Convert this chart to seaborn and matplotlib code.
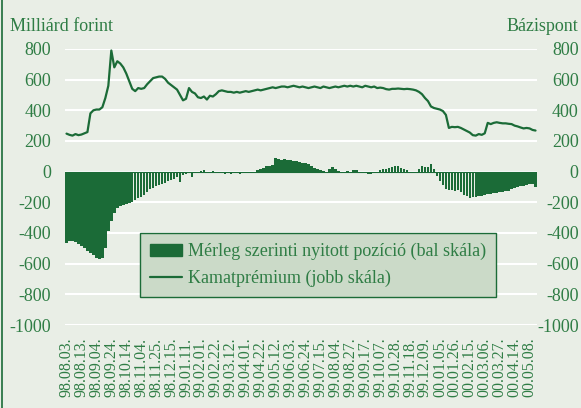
import matplotlib
matplotlib.use("Agg")
import matplotlib.pyplot as plt
from matplotlib.lines import Line2D
from matplotlib.patches import Patch
import seaborn as sns
import pandas as pd

# Tick labels on the date axis (one every 5 points)
date_labels = ["98.08.03.", "98.08.13.", "98.09.04.", "98.09.24.", "98.10.14.", "98.11.04.",
               "98.11.25.", "98.12.15.", "99.01.11.", "99.02.01.", "99.02.22.", "99.03.12.",
               "99.04.01.", "99.04.22.", "99.05.12.", "99.06.03.", "99.06.24.", "99.07.15.",
               "99.08.04.", "99.08.27.", "99.09.17.", "99.10.07.", "99.10.28.", "99.11.18.",
               "99.12.09.", "00.01.05.", "00.01.26.", "00.02.15.", "00.03.06.", "00.03.27.",
               "00.04.14.", "00.05.08."]

# Mérleg szerinti nyitott pozíció (milliárd forint, bal skála)
pozicio = [-465, -455, -450, -460, -470, -485, -500, -515, -530, -545,
           -560, -570, -560, -500, -390, -320, -270, -240, -225, -215,
           -210, -205, -197, -185, -175, -165, -150, -130, -115, -105,
           -92, -85, -78, -72, -62, -53, -45, -38, -70, -22,
           -15, -12, -38, -8, -5, 5, 8, -10, -8, 5,
           -10, -12, -10, -15, -12, -15, -10, -12, -15, -12,
           -10, -8, -10, -5, 8, 15, 25, 35, 40, 45,
           90, 82, 78, 80, 75, 78, 72, 70, 65, 55,
           55, 50, 35, 25, 15, 10, 5, -8, 15, 30,
           15, 5, -5, -10, 5, -5, 8, 10, -5, -8,
           -12, -15, -18, -12, -5, 10, 20, 15, 25, 30,
           40, 35, 25, 15, 10, -5, -8, -5, 20, 35,
           30, 30, 48, 20, -30, -60, -85, -110, -118, -122,
           -125, -120, -130, -150, -160, -170, -168, -165, -160, -158,
           -152, -148, -145, -142, -140, -135, -130, -128, -125, -115,
           -108, -102, -95, -92, -88, -82, -80, -102]

# Kamatprémium (bázispont, jobb skála)
premium = [248, 240, 235, 245, 238, 242, 250, 258, 380, 400,
           405, 405, 420, 480, 560, 790, 680, 720, 705, 680,
           640, 590, 540, 525, 545, 540, 545, 570, 590, 610,
           615, 620, 620, 605, 580, 565, 550, 535, 500, 465,
           475, 545, 520, 510, 485, 480, 490, 470, 495, 490,
           505, 525, 530, 525, 520, 520, 515, 520, 515, 520,
           525, 520, 525, 530, 535, 530, 535, 540, 545, 550,
           545, 550, 555, 555, 550, 555, 560, 555, 550, 555,
           550, 545, 550, 555, 550, 545, 555, 550, 545, 550,
           555, 550, 555, 560, 555, 560, 555, 560, 555, 550,
           560, 555, 550, 555, 545, 548, 545, 538, 535, 540,
           540, 542, 540, 538, 540, 538, 535, 530, 520, 505,
           480, 460, 425, 415, 410, 405, 395, 370, 285, 292,
           290, 292, 285, 275, 265, 255, 238, 235, 245, 240,
           250, 318, 310, 318, 322, 318, 315, 315, 312, 310,
           300, 295, 288, 282, 285, 282, 272, 268]

bg = "#e9eee6"
dark = "#1b6b37"
txt = "#2f7d45"

df = pd.DataFrame({"i": range(len(pozicio)), "pozicio": pozicio, "premium": premium})

sns.set_theme(style="white")
plt.rcParams["font.family"] = ["Liberation Serif", "DejaVu Serif"]

fig = plt.figure(figsize=(5.81, 4.08), dpi=100, facecolor=bg)
ax = fig.add_axes([0.1119, 0.2034, 0.8124, 0.6766])
ax.set_facecolor(bg)

# bal skála: oszlopok
sns.barplot(data=df, x="i", y="pozicio", color=dark, saturation=1, width=0.85,
            linewidth=0, ax=ax, zorder=2)
ax.axhline(0, color=dark, lw=0.8, zorder=3)

# jobb skála: vonal
ax2 = ax.twinx()
sns.lineplot(data=df, x="i", y="premium", color=dark, lw=1.6, ax=ax2, zorder=4)

ticks = list(range(-1000, 801, 200))
for a in (ax, ax2):
    a.set_ylim(-1000, 800)
    a.set_yticks(ticks)
    a.set_ylabel("")
    a.set_xlabel("")
    for s in a.spines.values():
        s.set_visible(False)
    a.tick_params(axis="y", length=0, labelsize=13, labelcolor=txt)

ax.yaxis.grid(True, color="white", lw=1.5, zorder=0)
ax.set_axisbelow(True)
ax.tick_params(axis="y", pad=10)
ax2.tick_params(axis="y", pad=30)
ax.set_yticklabels([str(v) for v in ticks])
ax2.set_yticklabels([str(v) for v in ticks], ha="right")

ax.set_xlim(-0.5, len(pozicio) - 0.5)
ax.set_xticks(range(0, 5 * len(date_labels), 5))
ax.set_xticklabels(date_labels, rotation=90, fontsize=11.5, color=txt)
ax.tick_params(axis="x", length=0, pad=9)

fig.text(0.017, 0.935, "Milliárd forint", fontsize=13, color=txt, ha="left", va="center")
fig.text(0.995, 0.935, "Bázispont", fontsize=13, color=txt, ha="right", va="center")

handles = [Patch(facecolor=dark, edgecolor=dark), Line2D([0], [0], color=dark, lw=1.6)]
leg = fig.legend(handles, ["Mérleg szerinti nyitott pozíció (bal skála)", "Kamatprémium (jobb skála)"],
                 loc="upper left", bbox_to_anchor=(0.241, 0.429), borderaxespad=0, fontsize=13,
                 frameon=True, fancybox=False, facecolor="#cbdac8", edgecolor=dark,
                 framealpha=1, handlelength=1.8, handleheight=0.7, handletextpad=0.3,
                 borderpad=0.55, labelspacing=0.55, labelcolor=txt)
leg.get_frame().set_linewidth(1)

fig.add_artist(Line2D([0.004, 0.004], [0, 1], color=dark, lw=1.2, transform=fig.transFigure))

fig.savefig("out.png", dpi=100, facecolor=bg)
